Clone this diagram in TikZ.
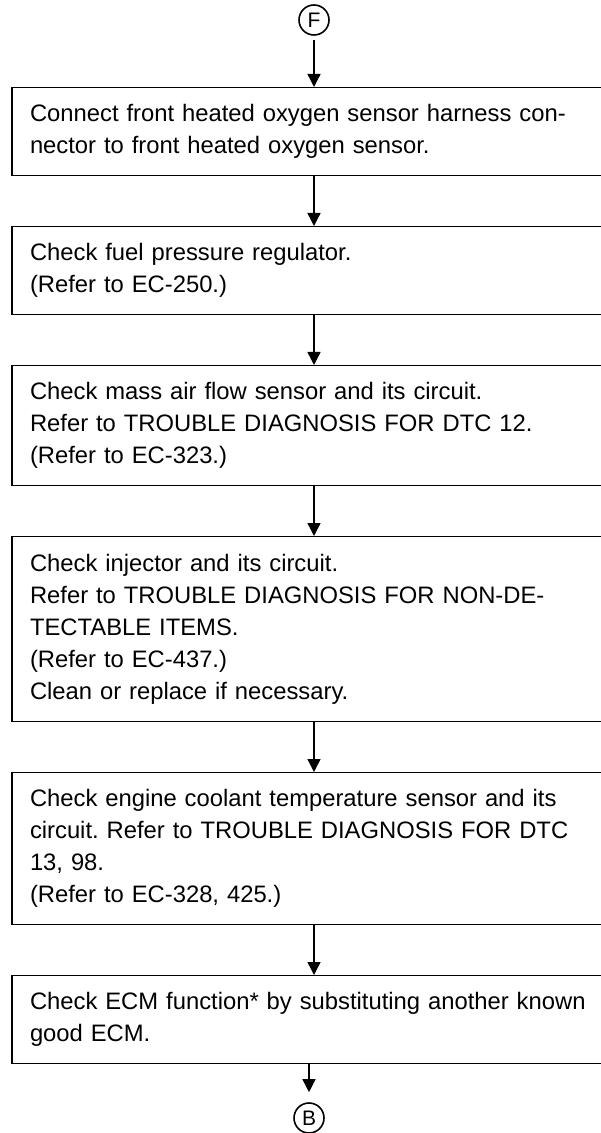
\documentclass[tikz,border=0pt]{standalone}
\usepackage{fontspec}
\setmainfont{Liberation Sans}
\usepackage{tikz}
\usetikzlibrary{arrows.meta,positioning}
\frenchspacing

\begin{document}
\begin{tikzpicture}[x=0.5pt,y=-0.5pt,
    font=\fontsize{11.9}{16}\selectfont,
    stepbox/.style={draw=black,line width=0.7pt,anchor=north,text width=300pt,
      inner xsep=9pt,inner ysep=0pt,align=left},
    conn/.style={draw=black,line width=0.8pt,circle,minimum size=15pt,
      inner sep=0pt,font=\fontsize{10.5}{10.5}\selectfont},
    flow/.style={->,line width=0.7pt},
    >={Triangle[length=6.5pt,width=6.5pt]}]
  \useasboundingbox (0,0) rectangle (600,1133);
  \node[conn] (F) at (314,20) {F};
  \node[stepbox, minimum height=44pt] (b1) at (330,87)
    {Connect front heated oxygen sensor harness con-\\nector to front heated oxygen sensor.};
  \node[stepbox, minimum height=44pt, below=24.8pt of b1] (b2)
    {Check fuel pressure regulator.\\(Refer to EC-250.)};
  \node[stepbox, minimum height=60pt, below=24.8pt of b2] (b3)
    {Check mass air flow sensor and its circuit.\\Refer to TROUBLE DIAGNOSIS FOR DTC 12.\\(Refer to EC-323.)};
  \node[stepbox, minimum height=92.5pt, below=24.8pt of b3] (b4)
    {Check injector and its circuit.\\Refer to TROUBLE DIAGNOSIS FOR NON-DE-\\TECTABLE ITEMS.\\(Refer to EC-437.)\\Clean or replace if necessary.};
  \node[stepbox, minimum height=76pt, below=24.8pt of b4] (b5)
    {Check engine coolant temperature sensor and its\\circuit. Refer to TROUBLE DIAGNOSIS FOR DTC\\13, 98.\\(Refer to EC-328, 425.)};
  \node[stepbox, minimum height=44pt, below=24.8pt of b5] (b6)
    {Check ECM function* by substituting another known\\good ECM.};
  \node[conn] (B) at (309,1118) {B};
  \draw[flow,shorten <=2pt] (F) -- (b1.north -| F);
  \draw[flow] (b1.south -| F) -- (b2.north -| F);
  \draw[flow] (b2.south -| F) -- (b3.north -| F);
  \draw[flow] (b3.south -| F) -- (b4.north -| F);
  \draw[flow] (b4.south -| F) -- (b5.north -| F);
  \draw[flow] (b5.south -| F) -- (b6.north -| F);
  \draw[flow,shorten >=5pt] (b6.south -| B) -- (B);
\end{tikzpicture}
\end{document}
